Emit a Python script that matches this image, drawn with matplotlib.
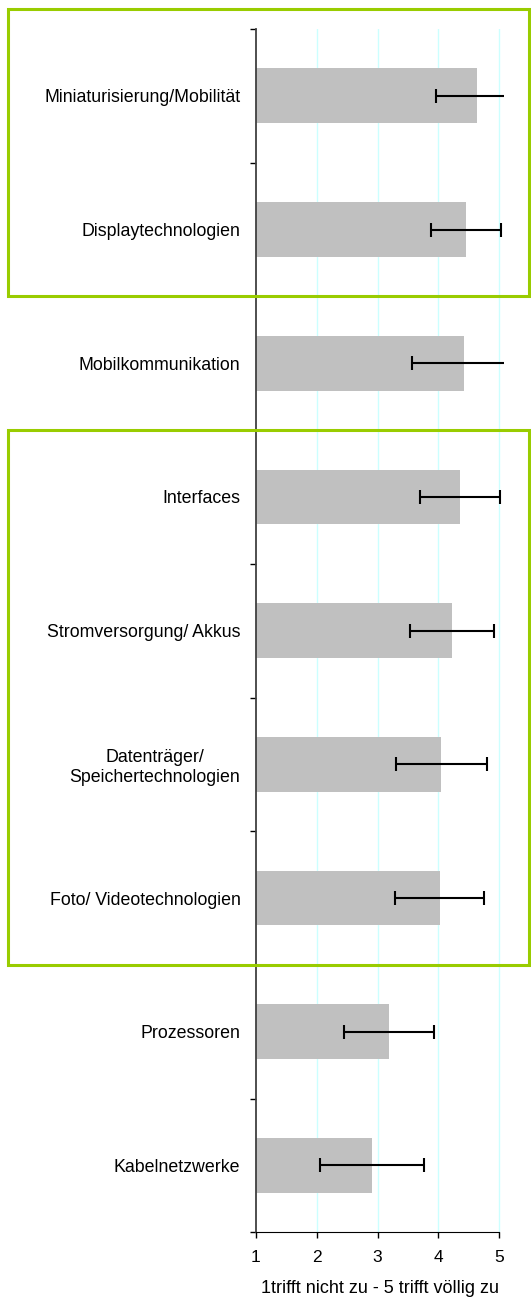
import matplotlib.pyplot as plt
from matplotlib.patches import Rectangle
import numpy as np

plt.rcParams['font.family'] = ['Liberation Sans', 'DejaVu Sans']

# data, top to bottom
labels = ['Miniaturisierung/Mobilität', 'Displaytechnologien', 'Mobilkommunikation',
          'Interfaces', 'Stromversorgung/ Akkus', 'Datenträger/\nSpeichertechnologien',
          'Foto/ Videotechnologien', 'Prozessoren', 'Kabelnetzwerke']
means = [4.64, 4.45, 4.415, 4.35, 4.22, 4.05, 4.02, 3.19, 2.91]
errs = [0.685, 0.58, 0.855, 0.655, 0.69, 0.745, 0.725, 0.74, 0.855]
xticks = [1, 2, 3, 4, 5]
xlabel = '1trifft nicht zu - 5 trifft völlig zu'

W, H = 531, 1299
fig = plt.figure(figsize=(W / 100, H / 100), dpi=100)
ax = fig.add_axes([255.7 / W, 1 - 1232.3 / H, (503.6 - 255.7) / W, (1232.3 - 29) / H])

y = np.arange(len(labels))
ax.barh(y, [m - 1 for m in means], left=1, height=0.41, color='#c0c0c0', zorder=2)
ax.errorbar(means, y, xerr=errs, fmt='none', ecolor='black', elinewidth=1.5,
            capsize=4.7, capthick=1.5, zorder=3)

ax.set_xlim(1, 5.07)
ax.set_ylim(len(labels) - 0.5, -0.5)
ax.set_xticks(xticks)
ax.set_xticklabels([str(t) for t in xticks], fontsize=12.5)
ax.tick_params(axis='x', direction='out', length=4.5, width=1, pad=8)
ax.set_yticks(y)
ax.set_yticklabels(labels, fontsize=12.8, multialignment='center')
ax.tick_params(axis='y', which='major', length=0, pad=11)
ax.set_yticks(np.arange(-0.5, len(labels), 1), minor=True)
ax.tick_params(axis='y', which='minor', direction='out', length=4.5, width=1)

for t in xticks[1:]:
    ax.axvline(t, color='#ccffff', lw=1, zorder=1)

ax.spines['top'].set_visible(False)
ax.spines['right'].set_visible(False)
ax.spines['bottom'].set_bounds(1, 5)
ax.spines['left'].set_color('#404040')
ax.spines['left'].set_linewidth(1.3)
ax.set_xlabel(xlabel, fontsize=13, labelpad=11)

# green highlight boxes; vertical extent in data rows, horizontal in figure
green = '#99cc00'
row_px = (1232.3 - 29) / len(labels)
for top, bottom in [(9.5, 29 + 2 * row_px), (29 + 3 * row_px, 29 + 7 * row_px)]:
    fig.patches.append(Rectangle((8 / W, 1 - bottom / H), (529 - 8) / W, (bottom - top) / H,
                                 transform=fig.transFigure, fill=False,
                                 edgecolor=green, lw=2.2, zorder=5))

fig.savefig('out.png', dpi=100)
